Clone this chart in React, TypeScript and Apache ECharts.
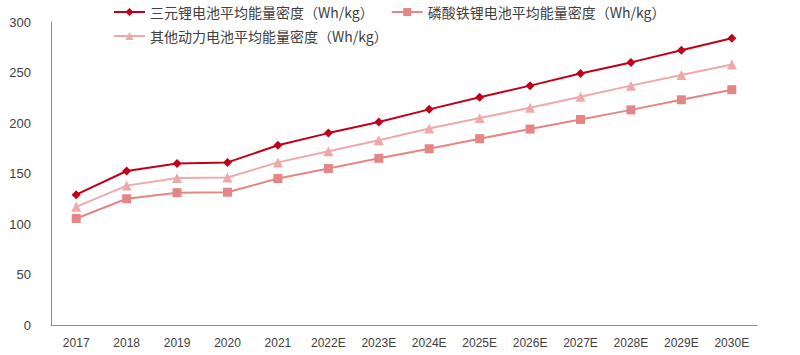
import React, { useEffect, useRef } from "react";
import * as echarts from "echarts";

const categories = ["2017", "2018", "2019", "2020", "2021", "2022E", "2023E", "2024E", "2025E", "2026E", "2027E", "2028E", "2029E", "2030E"];
const ternary = [129, 152.5, 160, 161, 178, 190, 201, 213.5, 225.5, 237, 249, 260, 272, 284];
const lfp = [105.5, 125, 131, 131.5, 145, 155, 165, 174.5, 184.5, 194, 203.5, 213, 223, 233];
const other = [117, 138, 145.5, 146, 161, 172, 183, 194.5, 205, 215, 226, 237, 247.5, 258];
const yTicks = { min: 0, max: 300, interval: 50 };

const names = [
  "三元锂电池平均能量密度（Wh/kg）",
  "磷酸铁锂电池平均能量密度（Wh/kg）",
  "其他动力电池平均能量密度（Wh/kg）",
];
const colors = ["#C00018", "#E68585", "#F0A9A9"];

export default function App() {
  const ref = useRef<HTMLDivElement>(null);
  useEffect(() => {
    document.body.style.margin = "0";
    if (!ref.current) return;
    const chart = echarts.init(ref.current, undefined, { renderer: "svg" });
    const textStyle = { fontFamily: "'Noto Sans CJK SC', sans-serif", fontSize: 14, color: "#404040" };
    chart.setOption({
      animation: false,
      grid: { left: 51, right: 43, top: 22, bottom: 30 },
      legend: [
        {
          data: [names[0], names[1]],
          left: 108,
          top: 0,
          itemWidth: 31,
          itemHeight: 10,
          itemGap: 17,
          textStyle,
        },
        {
          data: [names[2]],
          left: 108,
          top: 24,
          itemWidth: 31,
          itemHeight: 10,
          textStyle,
        },
      ],
      xAxis: {
        type: "category",
        data: categories,
        boundaryGap: true,
        axisLine: { lineStyle: { color: "#8C8C8C", width: 1 } },
        axisTick: { inside: true, length: 4, lineStyle: { color: "#8C8C8C" } },
        axisLabel: { color: "#404040", fontSize: 12, fontFamily: "'Liberation Sans', Arial, sans-serif", margin: 12 },
      },
      yAxis: {
        type: "value",
        min: yTicks.min,
        max: yTicks.max,
        interval: yTicks.interval,
        splitLine: { show: false },
        axisLine: { show: true, lineStyle: { color: "#8C8C8C", width: 1 } },
        axisTick: { show: false },
        axisLabel: { color: "#404040", fontSize: 13, fontFamily: "'Liberation Sans', Arial, sans-serif", margin: 20 },
      },
      series: [
        {
          name: names[0],
          type: "line",
          data: ternary,
          symbol: "diamond",
          symbolSize: 9,
          itemStyle: { color: colors[0] },
          lineStyle: { color: colors[0], width: 2 },
          z: 3,
        },
        {
          name: names[1],
          type: "line",
          data: lfp,
          symbol: "rect",
          symbolSize: 9,
          itemStyle: { color: colors[1] },
          lineStyle: { color: colors[1], width: 2 },
          z: 2,
        },
        {
          name: names[2],
          type: "line",
          data: other,
          symbol: "triangle",
          symbolSize: 10,
          itemStyle: { color: colors[2] },
          lineStyle: { color: colors[2], width: 2 },
          z: 1,
        },
      ],
    });
    return () => chart.dispose();
  }, []);
  return <div ref={ref} style={{ width: 800, height: 355 }} />;
}
